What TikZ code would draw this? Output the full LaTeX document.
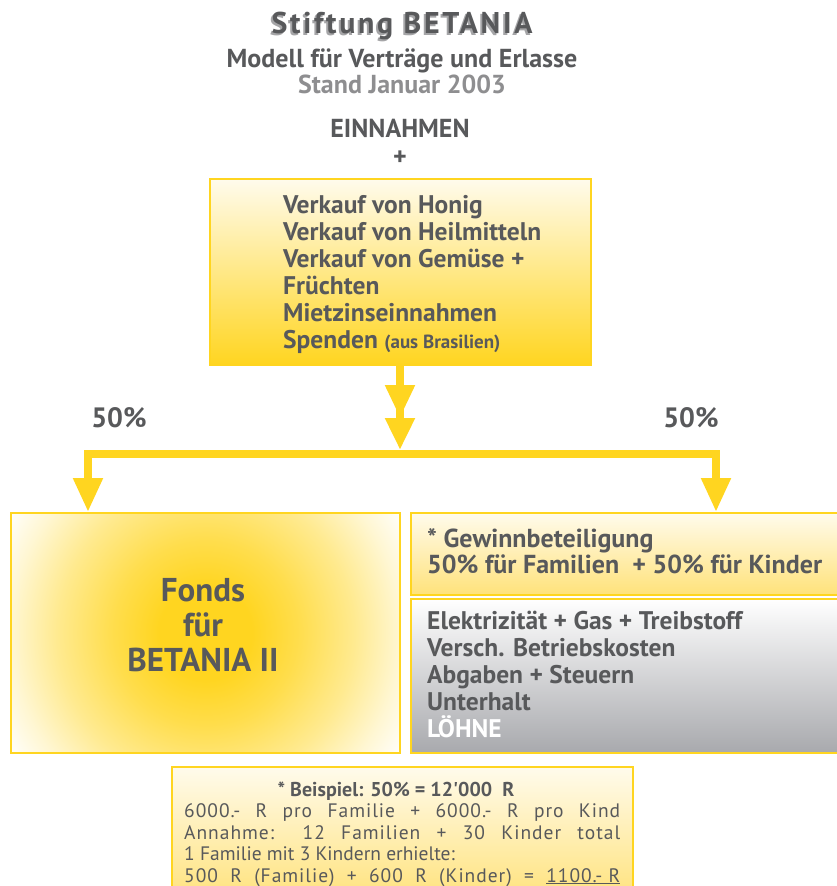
\documentclass[tikz,border=0pt]{standalone}
\usepackage{fontspec}
\usepackage{xcolor}
\setmainfont{PT Sans}
\newfontfamily\titlefont[LetterSpace=9]{PT Sans}
\newfontfamily\widefont[LetterSpace=5]{PT Sans}
\newfontfamily\quotefont{PT Sans}
\usetikzlibrary{arrows.meta, positioning}

\definecolor{betgray}{HTML}{58595B}
\definecolor{betlight}{HTML}{8E8E90}
\definecolor{betshade}{HTML}{A5A5A7}
\definecolor{betyellow}{HTML}{FFD520}
\definecolor{betpale}{HTML}{FFFBEC}
\definecolor{betsoft}{HTML}{FFE27A}
\definecolor{betsteel}{HTML}{A8A9AD}
\colorlet{glowA}{betyellow!80!white}
\colorlet{glowB}{betyellow!50!white}
\colorlet{glowC}{betyellow!20!white}

\pgfdeclareradialshading{fondsglow}{\pgfpoint{0bp}{0bp}}{%
  color(0bp)=(betyellow); color(5bp)=(betyellow); color(10bp)=(glowA);
  color(16bp)=(glowB); color(21bp)=(glowC); color(25bp)=(white); color(50bp)=(white)}

\tikzset{
  box/.style={draw=betyellow, line width=2pt, rectangle, inner sep=0pt},
  txt/.style={text=betgray, font=\bfseries\fontsize{25.5}{27}\selectfont, align=left, inner sep=0pt},
  sub/.style={text=betgray, font=\bfseries\fontsize{26}{28}\selectfont, inner sep=0pt},
  note/.style={text=betgray, font=\fontsize{19.5}{21.5}\selectfont, align=left, inner sep=0pt},
  yline/.style={draw=betyellow, line width=8pt},
  tip/.style={-{Triangle[width=28pt,length=34pt]}},
  dtip/.style={-{Triangle[width=28pt,length=33pt]Triangle[width=28pt,length=32pt]}},
}

\begin{document}
\begin{tikzpicture}[x=1pt, y=-1pt]
  \useasboundingbox (0,0) rectangle (837,886);

  % Titel
  \node[sub, text=betshade, anchor=base, font=\bfseries\fontsize{30}{32}\selectfont] (titleshadow) at (400,35) {\titlefont Stiftung BETANIA};
  \node[sub, anchor=base, font=\bfseries\fontsize{30}{32}\selectfont] (title) at (402,33) {\titlefont Stiftung BETANIA};
  \node[sub, anchor=base] (model) at (402,67) {Modell für Verträge und Erlasse};
  \node[sub, text=betlight, anchor=base, font=\bfseries\fontsize{26}{28}\selectfont] (stand) at (402,93) {Stand Januar 2003};
  \node[sub, anchor=base] (einnahmen) at (400,137) {EINNAHMEN};
  \node[sub, anchor=base] (plus) at (400,165) {+};

  % Einnahmen
  \node[box, top color=betpale, bottom color=betyellow, minimum width=381, minimum height=186] (ein) at (400,272) {};
  \node[txt, anchor=base west] (einlist) at (283,348) {Verkauf von Honig\\
    Verkauf von Heilmitteln\\
    Verkauf von Gemüse +\\
    Früchten\\
    Mietzinseinnahmen\\
    Spenden {\fontsize{19}{27}\selectfont (aus Brasilien)}};

  % Verteilung
  \coordinate (split) at (400,454);
  \coordinate (dropL) at (88,512);
  \coordinate (dropR) at (716,512);
  \draw[yline, dtip] (ein.south) -- ([yshift=4pt]split);
  \draw[yline, tip] ([xshift=4pt]split) -| (dropL);
  \draw[yline, tip] ([xshift=-4pt]split) -| (dropR);
  \node[sub, anchor=base, font=\bfseries\fontsize{28}{30}\selectfont] (pctL) at (119,427) {50\%};
  \node[sub, anchor=base, font=\bfseries\fontsize{28}{30}\selectfont] (pctR) at (691,427) {50\%};

  % Fonds
  \node[box, minimum width=389, minimum height=240, anchor=north west,
    path picture={\shade[shading=fondsglow] (path picture bounding box.center) circle (232pt);}] (fonds) at (10,512) {};
  \node[txt, align=center, anchor=base, font=\bfseries\fontsize{33}{35}\selectfont] (fondstxt) at (203,671) {Fonds\\für\\BETANIA II};

  % Gewinnbeteiligung und Kosten
  \node[box, top color=betpale, bottom color=betsoft, minimum width=440, minimum height=82, anchor=north west] (gewinn) at (410,512) {};
  \node[txt, anchor=base west, font=\bfseries\fontsize{26}{26}\selectfont] (gewinntxt) at (427,573) {* Gewinnbeteiligung\\50\% für Familien \ + 50\% für Kinder};
  \node[box, top color=white, bottom color=betsteel, minimum width=440, minimum height=154, anchor=north west] (kosten) at (410,598) {};
  \node[txt, anchor=base west] (kostentxt) at (427,737) {Elektrizität + Gas + Treibstoff\\
    Versch. Betriebskosten\\
    Abgaben + Steuern\\
    Unterhalt\\
    \textcolor{white}{LÖHNE}};

  % Beispiel
  \node[box, top color=betpale, bottom color=betsoft, minimum width=461, minimum height=135, anchor=north west] (beispiel) at (171,766) {};
  \node[note, anchor=base, font=\bfseries\fontsize{20}{21.5}\selectfont] (beispielkopf) at (396,796) {* Beispiel: 50\% = 12{\quotefont\char39}000 \ R};
  \node[note, anchor=base west] (rechnung) at (184,882) {\makebox[436pt][s]{\widefont 6000.- R pro Familie + 6000.- R pro Kind}\\
    \makebox[436pt][s]{\widefont Annahme: 12 Familien + 30 Kinder total}\\
    1 Familie mit 3 Kindern erhielte:\\
    \makebox[436pt][s]{\widefont 500 R (Familie) + 600 R (Kinder) = \underline{1100.- R}}};
\end{tikzpicture}
\end{document}
